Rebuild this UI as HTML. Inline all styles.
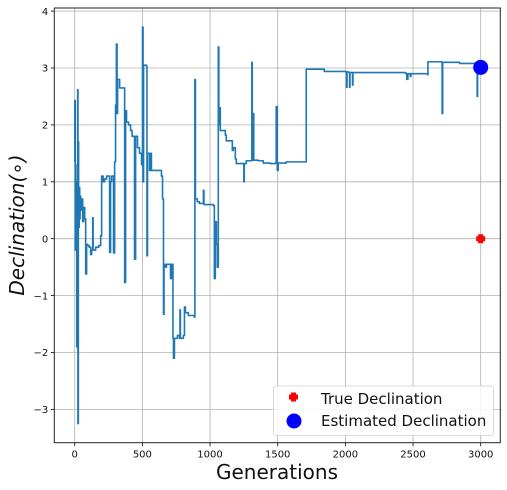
<!DOCTYPE html>
<html><head><meta charset="utf-8"><style>
body{margin:0;background:#fff;}
svg{display:block;font-family:"DejaVu Sans","Liberation Sans",sans-serif;}
</style></head><body>
<svg id="chart" width="507" height="490" xmlns="http://www.w3.org/2000/svg"></svg>
<script>
const gens=[0,1,4,7,11,15,18,22,24,27,29,33,37,40,44,52,59,66,74,81,88,96,107,118,125,133,136,155,177,192,199,210,221,236,251,258,265,273,284,287,295,302,308,313,317,332,365,369,376,383,398,413,424,442,450,464,479,494,501,505,509,531,534,538,553,560,567,634,641,649,656,660,671,678,700,708,715,722,726,730,737,759,774,778,781,803,811,818,840,884,888,892,906,921,951,955,1002,1025,1032,1039,1047,1054,1061,1065,1069,1076,1113,1120,1157,1165,1172,1187,1194,1246,1250,1253,1268,1305,1309,1312,1319,1323,1356,1393,1445,1485,1489,1497,1504,1563,1710,1711,1843,1844,2005,2009,2012,2027,2031,2034,2049,2053,2056,2447,2454,2462,2476,2480,2484,2609,2610,2712,2715,2719,2844,2970,2974,2977,3000];
const vals=[1.35,2.43,-0.2,1.0,0.3,-1.9,1.3,2.62,-3.25,1.7,0.2,0.9,0.35,0.75,0.5,0.7,0.3,0.55,0.35,-0.62,-0.1,-0.12,-0.15,-0.28,-0.2,0.37,-0.2,-0.15,-0.12,0.05,1.1,1.0,1.05,1.1,1.1,-0.24,1.0,1.1,1.1,-0.25,1.35,2.35,3.42,2.2,2.8,2.65,2.65,-0.77,2.25,2.05,2.0,1.9,1.8,-0.36,1.8,1.6,1.5,1.3,3.72,1.0,3.05,3.03,-0.3,1.5,1.2,1.5,1.2,1.2,1.1,0.7,-1.33,-0.45,-0.5,-0.45,-0.45,-0.7,-0.45,-0.45,-1.75,-2.1,-1.75,-1.7,-1.75,-1.25,-1.75,-1.7,-1.2,-1.3,-1.35,-1.38,2.8,0.7,0.65,0.62,0.85,0.6,0.6,0.58,-0.7,0.3,-0.1,-0.5,3.37,2.0,2.3,1.9,1.82,1.72,1.72,1.55,1.6,1.4,1.32,1.32,1.0,1.32,1.37,1.37,3.1,1.38,2.2,1.38,1.37,1.33,1.32,1.33,2.32,1.2,1.33,1.35,1.35,2.98,2.98,2.94,2.93,2.66,2.93,2.92,2.66,2.92,2.92,2.7,2.92,2.9,2.8,2.9,2.9,2.85,2.9,2.88,3.11,3.1,2.2,3.1,3.08,3.07,2.5,3.07,3.05];
const xTicks=[0,500,1000,1500,2000,2500,3000];
const yTicks=[-3,-2,-1,0,1,2,3,4];
const trueDecl=[3000,0];
const estDecl=[3000,3.01];

const NS="http://www.w3.org/2000/svg";
const svg=document.getElementById('chart');
const L=54.3,R=500.3,T=8,B=442.7;
const xs=g=>74.7+g*(406/3000);
const ys=v=>238.7-v*56.9;
function el(t,a,p){const e=document.createElementNS(NS,t);for(const k in a)e.setAttribute(k,a[k]);(p||svg).appendChild(e);return e;}

for(const t of xTicks){
  const x=xs(t);
  const g=el('line',{x1:x,x2:x,y1:T,y2:B,stroke:'#b0b0b0','stroke-width':0.8});
  
  
  el('line',{x1:x,x2:x,y1:B,y2:B+3.5,stroke:'#000','stroke-width':0.8});
  const tx=el('text',{x:x,y:B+15,'font-size':'10','text-anchor':'middle',fill:'#111'});
  tx.textContent=t;
  
  
}
for(const t of yTicks){
  const y=ys(t);
  const g=el('line',{x1:L,x2:R,y1:y,y2:y,stroke:'#b0b0b0','stroke-width':0.8});
  
  
  el('line',{x1:L-3.5,x2:L,y1:y,y2:y,stroke:'#000','stroke-width':0.8});
  const tx=el('text',{x:L-6,y:y+3.7,'font-size':'10','text-anchor':'end',fill:'#111'});
  tx.textContent=(t<0?'\u2212'+(-t):t);
  
  
}
let d='';
gens.forEach((g,i)=>{
  if(i===0){d+='M'+xs(g).toFixed(2)+' '+ys(vals[0]).toFixed(2);}
  else{d+='L'+xs(g).toFixed(2)+' '+ys(vals[i-1]).toFixed(2)+'L'+xs(g).toFixed(2)+' '+ys(vals[i]).toFixed(2);}
});
const line=el('path',{d:d,fill:'none',stroke:'#1f77b4','stroke-width':1.6,'stroke-linejoin':'round'});



const est=el('circle',{cx:xs(estDecl[0]),cy:ys(estDecl[1]),r:7.5,fill:'#0000ff'});


const tr=el('path',{d:`M${xs(trueDecl[0])-4.5} ${ys(trueDecl[1])-2.5}h2v-2h5v2h2v5h-2v2h-5v-2h-2z`,fill:'#ff0000'});



const frame=el('rect',{x:L,y:T,width:R-L,height:B-T,fill:'none',stroke:'#222','stroke-width':1});



const lg=el('g',{});


el('rect',{x:273.5,y:386,width:220,height:49.5,rx:3,fill:'#fff','fill-opacity':0.85,stroke:'#d0d0d0','stroke-width':0.8},lg);
el('path',{d:'M289 394.5h2v-2h5v2h2v5h-2v2h-5v-2h-2z',fill:'#ff0000'},lg);
el('circle',{cx:294,cy:421,r:7.5,fill:'#0000ff'},lg);
const l1=el('text',{x:321,y:404,'font-size':'15',fill:'#111'},lg);l1.textContent='True Declination';


const l2=el('text',{x:321,y:426,'font-size':'15',fill:'#111'},lg);l2.textContent='Estimated Declination';



const xt=el('text',{x:277,y:479,'font-size':'20','text-anchor':'middle',fill:'#111'});
xt.textContent='Generations';


const yt=el('text',{x:0,y:0,'font-size':'20','font-style':'italic','text-anchor':'middle',fill:'#111',transform:'translate(24,225) rotate(-90)'});
yt.textContent='Declination(\u2218)';


</script>
</body></html>
